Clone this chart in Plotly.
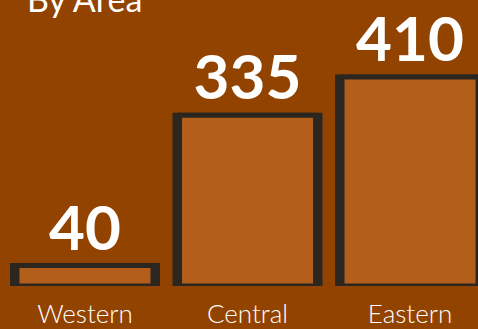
import plotly.graph_objects as go

categories = ["Western", "Central", "Eastern"]
values = [40, 335, 410]
labels = ["40", "335", "410"]
title_text = "By Area"

BG = "#934300"
FILL = "#b35e1b"
DARK = "#2c2621"

fig = go.Figure()
fig.add_trace(go.Bar(
    x=categories, y=values, width=0.892,
    marker=dict(color=DARK, line=dict(color=DARK, width=5)),
    hoverinfo="skip", showlegend=False,
))
fig.add_trace(go.Bar(
    x=categories, y=values, width=0.837,
    marker=dict(color=FILL, line=dict(color=DARK, width=5)),
    text=labels, textposition="outside",
    textfont=dict(family="Lato", size=62, color="white", weight=700),
    hoverinfo="skip", showlegend=False,
))

fig.update_layout(
    width=478, height=329,
    margin=dict(l=0, r=0, t=0, b=40),
    paper_bgcolor=BG, plot_bgcolor=BG,
    barmode="overlay",
    title=dict(text=title_text, x=27/478, xanchor="left", xref="container",
               y=1.0, yanchor="middle", yref="container",
               font=dict(family="Lato", size=34, color="white")),
    xaxis=dict(range=[-0.523, 2.418], showgrid=False, zeroline=False,
               showline=False, ticks="", fixedrange=True, ticklabelstandoff=10,
               tickfont=dict(family="Lato", size=26, color="white", weight=300)),
    yaxis=dict(range=[0, 561], visible=False, fixedrange=True),
)

fig.write_html("out.html", config={"displayModeBar": False})
